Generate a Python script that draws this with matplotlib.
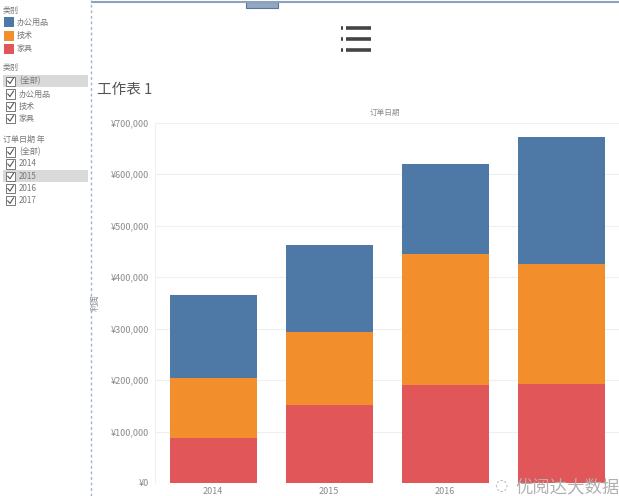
import matplotlib
matplotlib.use("Agg")
import matplotlib.pyplot as plt
from matplotlib.patches import Rectangle
from matplotlib.lines import Line2D
from matplotlib.ticker import FuncFormatter

plt.rcParams['font.family'] = ['Noto Sans CJK SC', 'DejaVu Sans']

years = ["2014", "2015", "2016", "2017"]
categories = ["办公用品", "技术", "家具"]
furniture = [88000, 151000, 191000, 192000]      # 家具 (bottom)
technology = [116000, 142000, 254000, 234000]    # 技术 (middle)
office = [162000, 170000, 175000, 246000]        # 办公用品 (top)
yticks = [0, 100000, 200000, 300000, 400000, 500000, 600000, 700000]

colors = {"办公用品": "#4E79A7", "技术": "#F28E2B", "家具": "#E15759"}

W, H = 619, 496
fig = plt.figure(figsize=(W / 100, H / 100), dpi=100)
fig.patch.set_facecolor("white")

def fx(px):
    return px / W

def fy(py):
    return 1 - py / H

# main axes
ax = fig.add_axes([fx(155), fy(483), 1 - fx(155), fy(122.7) - fy(483)])
x = list(range(len(years)))
bw = 0.75
ax.bar(x, furniture, width=bw, color=colors["家具"], zorder=3)
bottom2 = furniture
ax.bar(x, technology, width=bw, bottom=bottom2, color=colors["技术"], zorder=3)
bottom3 = [a + b for a, b in zip(furniture, technology)]
ax.bar(x, office, width=bw, bottom=bottom3, color=colors["办公用品"], zorder=3)

ax.set_xlim(-0.5, 3.5)
ax.set_ylim(0, 700000)
ax.set_yticks(yticks)
ax.yaxis.set_major_formatter(FuncFormatter(lambda v, p: "¥{:,.0f}".format(v)))
ax.set_xticks(x)
# the last year's label is hidden behind the watermark in the reference
ax.set_xticklabels(years[:-1] + [""])
ax.tick_params(axis="both", length=0, labelsize=6.5, colors="#8a8a8a")
ax.tick_params(axis="y", pad=4)
ax.tick_params(axis="x", pad=3)
ax.grid(axis="y", color="#efefef", linewidth=0.8, zorder=0)
for s in ["top", "right", "bottom"]:
    ax.spines[s].set_visible(False)
ax.spines["left"].set_color("#f0f0f0")
ax.set_ylabel("利润", fontsize=6, color="#8a8a8a")
ax.yaxis.set_label_coords((100 - 155) / (W - 155), 0.5)

# header texts
fig.text(fx(385), fy(113), "订单日期", fontsize=5.5, color="#8a8a8a", ha="center", va="center")
fig.text(fx(97), fy(90), "工作表 1", fontsize=10.5, color="#555555", ha="left", va="center")

# top border and handle
fig.add_artist(Line2D([fx(92), 1], [fy(2), fy(2)], color="#8da3bd", lw=1.5))
fig.add_artist(Rectangle((fx(246), fy(8)), fx(32), fy(2) - fy(8), facecolor="#8fa8c4",
                         edgecolor="#5b7694", lw=0.8))
# dashed separator
fig.add_artist(Line2D([fx(91), fx(91)], [0, 1], color="#9db3cc", lw=1.0, linestyle=(0, (2, 2))))

# hamburger icon
for yy in [28, 39, 50]:
    fig.add_artist(Line2D([fx(341), fx(343.5)], [fy(yy), fy(yy)], color="#444444", lw=2.6,
                          solid_capstyle="butt"))
    fig.add_artist(Line2D([fx(346), fx(371)], [fy(yy), fy(yy)], color="#444444", lw=2.6,
                          solid_capstyle="butt"))

# left panel: legend
fs = 5.8
tc = "#777777"
fig.text(fx(3), fy(10), "类别", fontsize=fs, color=tc, va="center")
for i, cat in enumerate(categories):
    yy = 22 + i * 13.5
    fig.add_artist(Rectangle((fx(4), fy(yy + 5)), fx(10), fy(yy - 5) - fy(yy + 5),
                             facecolor=colors[cat], edgecolor="none"))
    fig.text(fx(17), fy(yy), cat, fontsize=fs, color=tc, va="center")

def checkbox_row(yy, label, highlight=False):
    if highlight:
        fig.add_artist(Rectangle((fx(3), fy(yy + 6)), fx(85), fy(yy - 6) - fy(yy + 6),
                                 facecolor="#d9d9d9", edgecolor="none"))
    fig.add_artist(Rectangle((fx(6), fy(yy + 4.5)), fx(9), fy(yy - 4.5) - fy(yy + 4.5),
                             facecolor="white", edgecolor="#777777", lw=0.7))
    fig.add_artist(Line2D([fx(7.8), fx(10), fx(13.5)], [fy(yy), fy(yy + 2.5), fy(yy - 3)],
                          color="#555555", lw=0.8))
    fig.text(fx(19), fy(yy), label, fontsize=fs, color=tc, va="center")

fig.text(fx(3), fy(67), "类别", fontsize=fs, color=tc, va="center")
checkbox_row(81, "(全部)", True)
for i, cat in enumerate(categories):
    checkbox_row(94 + i * 12.3, cat)

fig.text(fx(3), fy(139), "订单日期 年", fontsize=fs, color=tc, va="center")
checkbox_row(152, "(全部)")
for i, yr in enumerate(years):
    checkbox_row(164 + i * 12.3, yr, highlight=(yr == "2015"))

# watermark
fig.text(fx(515), fy(487), "优阅达大数据", fontsize=12.5, color="#b0b0b0", ha="left",
         va="center")
fig.text(fx(494), fy(486), "◌", fontsize=11, color="#b0b0b0", ha="left", va="center",
         family=["DejaVu Sans"])

fig.savefig("out.png", dpi=100)
